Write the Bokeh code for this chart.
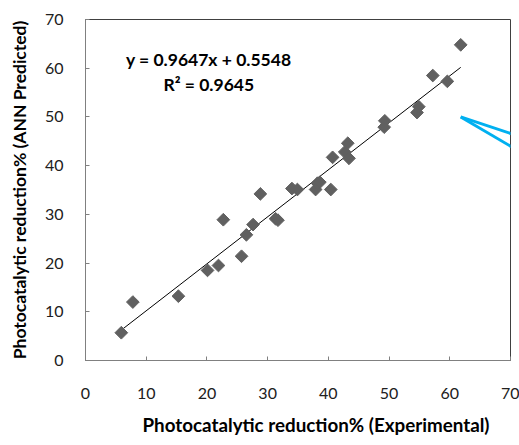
from bokeh.plotting import figure
from bokeh.models import Label, Range1d, FixedTicker, Title
from bokeh.embed import file_html
from bokeh.resources import INLINE

# Photocatalytic reduction% : experimental vs ANN predicted
x_exp = [5.9, 7.8, 15.3, 20.1, 21.9, 22.7, 25.7, 26.5, 27.6, 28.8, 31.3, 31.7,
         34.0, 34.9, 37.9, 38.2, 38.6, 40.4, 40.7, 42.7, 43.2, 43.4, 49.2, 49.3,
         54.6, 54.9, 57.2, 59.6, 61.8]
y_ann = [5.7, 12.0, 13.2, 18.5, 19.5, 28.9, 21.4, 25.8, 27.9, 34.2, 29.1, 28.8,
         35.3, 35.1, 35.1, 36.4, 36.6, 35.1, 41.7, 42.8, 44.6, 41.5, 47.9, 49.2,
         50.9, 52.1, 58.5, 57.3, 64.8]
slope = 0.9647
intercept = 0.5548
r2 = 0.9645
ticks = [0, 10, 20, 30, 40, 50, 60, 70]
x_title = "Photocatalytic reduction% (Experimental)"
y_title = "Photocatalytic reduction% (ANN Predicted)"

# decorative callout pointer (cropped from source figure)
ptr_x0 = [61.8, 61.8]
ptr_y0 = [50.0, 50.0]
ptr_x1 = [71.5, 71.5]
ptr_y1 = [46.0, 42.9]

FONT = "Lato"
GRAY = "#404040"

p = figure(width=519, height=445, output_backend="svg", toolbar_location=None,
           x_range=Range1d(0, 70), y_range=Range1d(0, 70),
           min_border_left=85, min_border_right=9, min_border_top=19,
           min_border_bottom=85)
p.outline_line_color = GRAY
p.outline_line_width = 1
p.xgrid.visible = False
p.ygrid.visible = False
p.background_fill_color = "white"
p.border_fill_color = "white"

for ax in (p.xaxis[0], p.yaxis[0]):
    ax.ticker = FixedTicker(ticks=ticks)
    ax.minor_tick_line_color = None
    ax.major_tick_in = 4
    ax.major_tick_out = 0
    ax.axis_line_color = "#808080"
    ax.major_tick_line_color = "#808080"
    ax.major_label_text_font = FONT
    ax.major_label_text_font_size = "16px"
    ax.major_label_text_color = "#202020"
    ax.axis_label_text_font = FONT
    ax.axis_label_text_font_style = "bold"
    ax.axis_label_text_color = "#000000"

p.yaxis.axis_label = y_title
p.yaxis.axis_label_text_font_size = "17.5px"
p.xaxis.major_label_standoff = 27
p.yaxis.major_label_standoff = 22
p.yaxis.axis_label_standoff = 12

# x-axis title, placed slightly right of centre as in the source
p.add_layout(Title(text=x_title, align="left", offset=57, standoff=18,
                   text_font=FONT, text_font_style="bold",
                   text_font_size="18.8px", text_color="black"), "below")

# trend line across the data span
lx = [min(x_exp), max(x_exp)]
ly = [slope * v + intercept for v in lx]
p.line(lx, ly, line_color="black", line_width=1)

p.scatter(x_exp, y_ann, marker="square", size=9, angle=0.785398,
          fill_color="#606060", line_color="#606060")

p.segment(ptr_x0, ptr_y0, ptr_x1, ptr_y1, line_color="#00b0f0", line_width=3)

p.add_layout(Label(x=20.3, y=61.8, text=f"y = {slope}x + {intercept}",
                   text_font=FONT, text_font_style="bold", text_font_size="17.5px",
                   text_align="center", text_baseline="middle", text_color="black"))
p.add_layout(Label(x=20.3, y=56.7, text=f"R² = {r2}",
                   text_font=FONT, text_font_style="bold", text_font_size="17.5px",
                   text_align="center", text_baseline="middle", text_color="black"))

open("out.html", "w").write(file_html(p, INLINE))
